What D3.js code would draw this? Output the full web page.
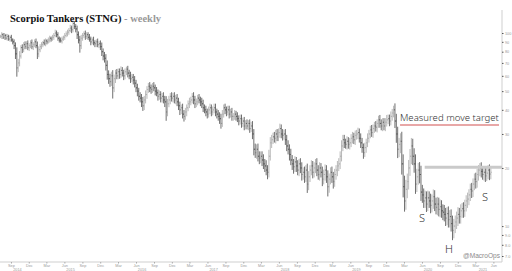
<!DOCTYPE html>
<html>
<head>
<meta charset="utf-8">
<script src="https://cdn.jsdelivr.net/npm/d3@7"></script>
<style>
  html, body { margin: 0; padding: 0; background: #fff; }
  svg { display: block; }
</style>
</head>
<body>
<div class="vis-stng"></div>
<script>
// weekly bars, first week starts Mon 7 Jul 2014
const firstWeek = new Date(2014, 6, 7);

// weekly closes (split adjusted)
const closes = [
  96, 98, 95, 97, 94, 96, 93, 95, 92, 90,
  86, 78, 66, 70, 76, 84, 82, 87, 85, 88,
  84, 86, 89, 85, 87, 90, 86, 78, 82, 85,
  87, 89, 88, 91, 90, 92, 94, 93, 95, 97,
  100, 98, 94, 92, 91, 93, 95, 97, 99, 101,
  103, 106, 104, 112, 108, 105, 98, 92, 86, 94,
  97, 99, 96, 98, 95, 93, 90, 92, 89, 88,
  90, 87, 88, 85, 80, 76, 74, 68, 61, 58,
  56, 60, 52, 58, 62, 60, 63, 61, 64, 62,
  60, 63, 65, 62, 60, 58, 59, 57, 55, 52,
  50, 47, 46, 44, 42, 45, 48, 51, 53, 52,
  51, 53, 52, 50, 49, 47, 48, 46, 47, 45,
  44, 39, 43, 45, 47, 46, 47, 45, 46, 44,
  42, 40, 41, 38, 37, 39, 41, 43, 44, 45,
  47, 45, 43, 44, 46, 45, 44, 43, 41, 40,
  39, 38, 40, 41, 39, 40, 41, 39, 38, 37,
  36, 34, 38, 41, 40, 39, 40, 38, 39, 37,
  37, 38, 37, 36, 35, 36, 34, 35, 33, 34,
  33, 34, 32, 33, 30, 25, 24, 25, 23, 22.5,
  23, 22, 21, 20.5, 19.5, 19, 23, 27, 28, 29,
  28.5, 30, 29, 30.5, 32, 30, 29.5, 30, 28, 26,
  25, 23.5, 22, 21, 20.3, 21.5, 20.5, 19.5, 21, 20,
  18.5, 19, 18, 19.5, 16.5, 18, 19.5, 20.5, 19, 20,
  21, 19.5, 18.5, 20, 19, 17.5, 18.5, 19.5, 18, 16,
  17.5, 19, 18, 17, 18.5, 19.5, 20.5, 21, 23, 26,
  28, 27, 26.5, 27.5, 26.5, 27, 28.5, 29, 28, 29.5,
  30, 30.5, 28.5, 27, 25.5, 24, 25.5, 27, 28.5, 30,
  31.5, 30.5, 32, 33, 32.5, 34, 35.5, 34, 33, 34.5,
  33, 34.5, 35.5, 36, 35, 37, 38.5, 40, 35, 30,
  25, 26.5, 27.5, 21, 16, 13.5, 15.5, 17, 20, 23,
  26, 23, 21, 16.5, 18, 19.5, 18.5, 15, 14.5, 13.5,
  14, 13, 14, 13.5, 12.8, 13.5, 14.2, 13, 12.5, 13,
  12.2, 12.6, 12, 11.8, 11.5, 11, 11.6, 10.8, 11.2, 10.3,
  9.5, 10, 10.5, 11, 11.5, 11.2, 12, 12.3, 12, 12.8,
  13.5, 13.8, 14.5, 15.5, 15.2, 16.5, 17.5, 17, 18.5, 19.5,
  20, 19.2, 18.5, 19, 18.2, 18.8, 19.5, 18.6, 19
];

// how far (in %) each week's high ran above its body
const upWick = [
  2, 3, 2, 3, 2, 3, 2, 2, 3, 2,
  3, 4, 8, 5, 6, 3, 4, 3, 4, 3,
  4, 3, 3, 4, 3, 3, 4, 5, 4, 3,
  3, 2, 4, 3, 2, 3, 3, 2, 3, 3,
  4, 3, 3, 2, 3, 3, 2, 3, 3, 3,
  3, 4, 3, 5, 3, 3, 4, 4, 5, 4,
  3, 3, 4, 3, 3, 4, 3, 3, 4, 3,
  3, 4, 3, 4, 5, 4, 5, 5, 6, 5,
  6, 5, 7, 5, 4, 5, 4, 4, 5, 4,
  4, 4, 3, 4, 4, 5, 4, 4, 5, 4,
  5, 4, 5, 5, 6, 5, 5, 4, 4, 5,
  4, 4, 5, 4, 5, 4, 5, 4, 4, 5,
  5, 7, 6, 5, 4, 5, 4, 5, 4, 5,
  5, 5, 4, 5, 5, 5, 4, 4, 5, 4,
  4, 5, 5, 4, 4, 5, 4, 5, 5, 4,
  5, 4, 4, 5, 4, 4, 5, 5, 4, 5,
  5, 6, 5, 4, 5, 4, 5, 5, 4, 5,
  4, 5, 4, 5, 4, 5, 5, 4, 5, 4,
  5, 4, 5, 5, 6, 6, 7, 6, 7, 6,
  6, 6, 7, 6, 7, 6, 8, 7, 6, 5,
  6, 5, 6, 5, 6, 5, 6, 5, 6, 6,
  7, 6, 7, 6, 6, 7, 6, 7, 6, 7,
  7, 6, 7, 6, 8, 7, 6, 7, 6, 7,
  6, 7, 6, 7, 6, 7, 6, 7, 6, 8,
  7, 6, 7, 6, 7, 6, 6, 7, 6, 7,
  6, 6, 5, 6, 5, 6, 5, 6, 5, 6,
  5, 6, 5, 6, 6, 5, 6, 5, 6, 5,
  5, 6, 5, 5, 6, 5, 5, 6, 5, 5,
  5, 5, 6, 5, 5, 6, 5, 5, 8, 9,
  9, 8, 10, 12, 12, 14, 12, 10, 10, 9,
  10, 9, 10, 12, 10, 9, 10, 11, 9, 8,
  9, 8, 9, 8, 9, 8, 9, 8, 8, 9,
  8, 9, 8, 8, 9, 8, 8, 9, 8, 9,
  10, 9, 8, 8, 9, 8, 8, 7, 8, 7,
  7, 8, 7, 7, 8, 7, 7, 8, 7, 6,
  6, 7, 6, 7, 6, 7, 6, 7, 6
];

// how far (in %) each week's low ran below its body
const downWick = [
  2, 3, 2, 3, 2, 3, 2, 3, 2, 3,
  4, 6, 10, 5, 4, 3, 4, 3, 3, 3,
  3, 4, 3, 3, 4, 3, 3, 6, 4, 3,
  3, 3, 2, 3, 3, 2, 3, 3, 2, 3,
  2, 3, 3, 3, 2, 3, 2, 3, 2, 3,
  3, 2, 4, 3, 3, 4, 5, 4, 8, 4,
  3, 3, 4, 3, 3, 3, 4, 3, 3, 4,
  4, 3, 4, 4, 5, 5, 5, 6, 6, 6,
  6, 5, 12, 5, 5, 4, 4, 5, 4, 4,
  5, 4, 4, 5, 4, 5, 4, 5, 5, 5,
  6, 5, 5, 6, 6, 5, 4, 5, 4, 5,
  5, 4, 4, 5, 4, 5, 4, 5, 5, 4,
  6, 10, 5, 4, 5, 4, 5, 4, 5, 5,
  5, 6, 5, 5, 6, 4, 5, 4, 5, 4,
  4, 5, 5, 4, 4, 4, 5, 5, 5, 4,
  5, 5, 4, 5, 5, 4, 4, 5, 5, 5,
  6, 6, 4, 4, 5, 5, 4, 5, 4, 5,
  5, 4, 5, 4, 5, 4, 5, 4, 5, 4,
  4, 5, 5, 4, 6, 7, 6, 7, 6, 7,
  6, 7, 6, 7, 6, 8, 6, 5, 6, 5,
  5, 6, 5, 5, 6, 5, 6, 5, 6, 6,
  6, 7, 6, 7, 8, 6, 7, 6, 7, 6,
  7, 6, 7, 6, 10, 7, 6, 6, 7, 6,
  6, 7, 6, 7, 6, 8, 6, 7, 7, 11,
  7, 6, 7, 8, 6, 6, 7, 6, 6, 6,
  6, 6, 5, 6, 5, 6, 5, 6, 5, 6,
  5, 6, 5, 6, 6, 7, 5, 6, 5, 5,
  5, 5, 6, 5, 5, 6, 5, 5, 5, 6,
  5, 6, 5, 5, 6, 5, 5, 5, 8, 10,
  10, 9, 10, 12, 12, 12, 10, 10, 9, 9,
  9, 10, 10, 11, 9, 9, 10, 10, 9, 8,
  8, 9, 8, 8, 9, 8, 9, 8, 8, 9,
  8, 9, 8, 9, 8, 9, 8, 9, 9, 9,
  11, 9, 8, 8, 9, 8, 8, 8, 8, 7,
  7, 8, 7, 7, 8, 7, 7, 8, 7, 7,
  7, 7, 6, 7, 7, 6, 7, 7, 6
];

const yTicks = [100, 90, 80, 70, 60, 50, 40, 30, 20, 10, 9, 8, 7];
const years = [2014, 2015, 2016, 2017, 2018, 2019, 2020, 2021];
const necklinePrice = 20.2;
const targetPrice = 33.4;

// shrink a text's font until it fits the given width
const fitText = (sel, maxWidth) => {
    const node = sel.node();
    const size = parseFloat(sel.style('font-size'));
    const w = node.getComputedTextLength();
    if (w > maxWidth) sel.style('font-size', (size * maxWidth / w).toFixed(2) + 'px');
};

const draw = () => {
    d3.select('.vis-stng > *').remove();

    const W = 512, H = 271;
    const plotRight = 502, plotBottom = 262;
    const axisFont = 'Liberation Sans, Arial, sans-serif';

    const svg = d3.select('.vis-stng').append('svg')
        .attr('width', W)
        .attr('height', H);

    const x = d3.scaleTime()
        .domain([new Date(2014, 6, 7), new Date(2021, 6, 15)])
        .range([0, plotRight]);
    const y = d3.scaleLog()
        .domain([7, 130])
        .range([256, 11]);

    // build OHLC rows
    const bars = closes.map((c, i) => {
        const open = i === 0 ? c : closes[i - 1];
        const top = Math.max(open, c), bot = Math.min(open, c);
        return {
            date: d3.timeDay.offset(firstWeek, i * 7 + 2),
            open: open,
            close: c,
            high: top * (1 + upWick[i] / 100),
            low: bot * (1 - downWick[i] / 100)
        };
    });

    const g = svg.append('g').attr('class', 'bars');
    const bar = g.selectAll('g')
        .data(bars)
        .enter().append('g')
        .attr('stroke', d => d.close < d.open ? '#555' : '#acacac')
        .attr('stroke-width', 0.85);
    bar.append('line')
        .attr('x1', d => x(d.date)).attr('x2', d => x(d.date))
        .attr('y1', d => y(d.high)).attr('y2', d => y(d.low));
    bar.append('line')
        .attr('x1', d => x(d.date) - 1).attr('x2', d => x(d.date))
        .attr('y1', d => y(d.open)).attr('y2', d => y(d.open));
    bar.append('line')
        .attr('x1', d => x(d.date)).attr('x2', d => x(d.date) + 1)
        .attr('y1', d => y(d.close)).attr('y2', d => y(d.close));

    // right axis
    svg.append('line')
        .attr('x1', plotRight).attr('x2', plotRight)
        .attr('y1', 10).attr('y2', plotBottom)
        .attr('stroke', '#cfcfcf').attr('stroke-width', 1);
    const ya = svg.append('g')
        .attr('transform', 'translate(' + plotRight + ',0)')
        .call(d3.axisRight(y).tickValues(yTicks).tickSize(1.5).tickPadding(1.5)
            .tickFormat(d => d >= 10 ? d3.format('d')(d) : d3.format('.1f')(d)));
    ya.select('.domain').remove();
    ya.selectAll('line').attr('stroke', '#555');
    ya.selectAll('text')
        .attr('fill', '#999')
        .style('font-family', axisFont)
        .style('font-size', '3.8px');

    // bottom axis
    svg.append('line')
        .attr('x1', 0).attr('x2', plotRight)
        .attr('y1', plotBottom).attr('y2', plotBottom)
        .attr('stroke', '#cfcfcf');
    const quarters = d3.timeMonths(x.domain()[0], x.domain()[1])
        .filter(d => d.getMonth() % 3 === 2);
    const xa = svg.append('g')
        .attr('transform', 'translate(0,' + plotBottom + ')')
        .call(d3.axisBottom(x).tickValues(quarters).tickSize(1.5).tickPadding(0.5)
            .tickFormat(d3.timeFormat('%b')));
    xa.select('.domain').remove();
    xa.selectAll('line').attr('stroke', '#aaa');
    xa.selectAll('text')
        .attr('fill', '#999')
        .style('font-family', axisFont)
        .style('font-size', '3.8px');

    // year labels centred on the visible part of each year
    const [d0, d1] = x.domain();
    svg.append('g').selectAll('text')
        .data(years)
        .enter().append('text')
        .attr('x', yr => {
            const a = d3.max([d0, new Date(yr, 0, 1)]);
            const b = d3.min([d1, new Date(yr + 1, 0, 1)]);
            return (x(a) + x(b)) / 2;
        })
        .attr('y', 270.6)
        .attr('text-anchor', 'middle')
        .attr('fill', '#999')
        .style('font-family', axisFont)
        .style('font-size', '3.8px')
        .text(yr => yr);

    // neckline and measured move target
    svg.append('line')
        .attr('x1', x(new Date(2020, 5, 15))).attr('x2', plotRight)
        .attr('y1', y(necklinePrice)).attr('y2', y(necklinePrice))
        .attr('stroke', '#cacaca').attr('stroke-width', 3);
    svg.append('line')
        .attr('x1', x(new Date(2020, 1, 10))).attr('x2', 499)
        .attr('y1', y(targetPrice)).attr('y2', y(targetPrice))
        .attr('stroke', '#e08a8a').attr('stroke-width', 1.5);

    const hand = 'Noto Sans, DejaVu Sans, sans-serif';
    const mm = svg.append('text')
        .attr('x', 400).attr('y', 121)
        .attr('fill', '#333')
        .style('font-family', hand).style('font-weight', 300)
        .style('font-size', '12px')
        .text('Measured move target');
    fitText(mm, 99);

    const marks = [
        { t: 'S', px: 422, py: 222 },
        { t: 'S', px: 485, py: 201 },
        { t: 'H', px: 449, py: 253 }
    ];
    svg.append('g').selectAll('text')
        .data(marks)
        .enter().append('text')
        .attr('x', d => d.px).attr('y', d => d.py)
        .attr('text-anchor', 'middle')
        .attr('fill', '#333')
        .style('font-family', hand).style('font-weight', 300)
        .style('font-size', '11px')
        .text(d => d.t);

    const mo = svg.append('text')
        .attr('x', 463).attr('y', 258)
        .attr('fill', '#8a8a8a')
        .style('font-family', axisFont)
        .style('font-size', '8px')
        .text('@MacroOps');
    fitText(mo, 37);

    // title
    const title = svg.append('text')
        .attr('x', 10).attr('y', 21.5)
        .style('font-family', 'Liberation Serif, Times New Roman, serif')
        .style('font-weight', 'bold')
        .style('font-size', '10.5px');
    title.append('tspan').attr('fill', '#111').text('Scorpio Tankers (STNG)');
    title.append('tspan').attr('fill', '#999').text(' - weekly');
};

draw();
</script>
</body>
</html>
